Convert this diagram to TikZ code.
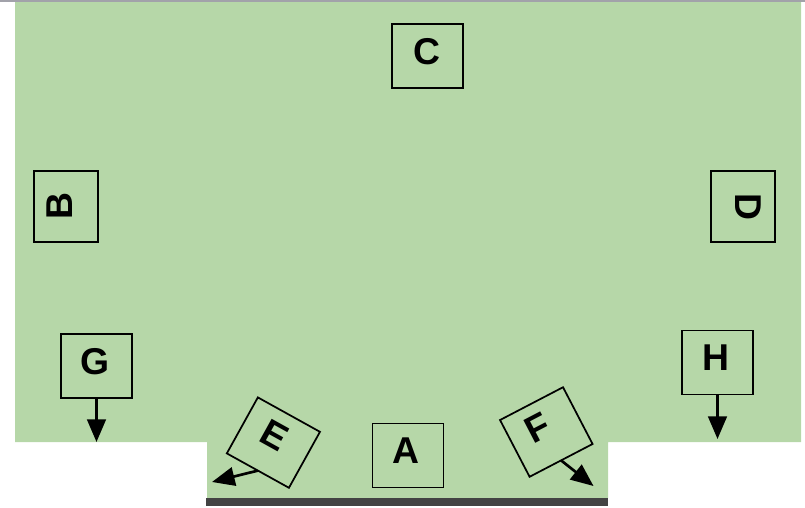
\documentclass[tikz,border=0pt]{standalone}
\usepackage{fontspec}
\setmainfont{Liberation Sans}
\usetikzlibrary{arrows.meta,calc}
\definecolor{bggreen}{HTML}{B6D7A8}
\definecolor{topgray}{HTML}{A2A2AA}
\definecolor{bardark}{HTML}{434343}
\begin{document}
\begin{tikzpicture}[x=0.75pt,y=-0.75pt,
  box/.style={draw=black, line width=1.3pt, minimum width=53.25pt, minimum height=48pt, inner sep=0pt, outer sep=0pt},
  lbl/.style={font=\bfseries\fontsize{28}{28}\selectfont, inner sep=0pt},
  arr/.style={line width=2pt, -{Triangle[length=17pt,width=14pt]}}]
\useasboundingbox (0,0) rectangle (805,507);
% background
\fill[topgray] (0,0) rectangle (805,2.2);
\fill[bggreen] (15,2.2) -- (801,2.2) -- (801,442) -- (608,442) -- (608,498) -- (207,498) -- (207,442) -- (15,442) -- cycle;
\fill[bardark] (205.7,498) rectangle (608,506);
% C
\begin{scope}[shift={(427.5,56)}]
  \node[box] (C) at (0,0) {};
  \node[lbl] (lC) at (-1,-4.5) {C};
\end{scope}
% A
\begin{scope}[shift={(408,455.5)}]
  \node[box] (A) at (0,0) {};
  \node[lbl] (lA) at (-2,-5) {A};
\end{scope}
% G
\begin{scope}[shift={(96.5,366)}]
  \node[box] (G) at (0,0) {};
  \node[lbl] (lG) at (-1,-4.5) {G};
\end{scope}
% H
\begin{scope}[shift={(717.5,362.5)}]
  \node[box] (H) at (0,0) {};
  \node[lbl] (lH) at (-1.5,-5) {H};
\end{scope}
% B
\begin{scope}[shift={(66,206.5)}, rotate=90]
  \node[box, rotate=90] (B) at (0,0) {};
  \node[lbl, rotate=90] (lB) at (0,-6) {B};
\end{scope}
% D
\begin{scope}[shift={(743,206.5)}, rotate=-90]
  \node[box, rotate=-90] (D) at (0,0) {};
  \node[lbl, rotate=-90] (lD) at (0,-5.5) {D};
\end{scope}
% E
\begin{scope}[shift={(273.4,442.6)}, rotate=-29]
  \node[box, rotate=-29] (E) at (0,0) {};
  \node[lbl, rotate=-29] (lE) at (-3,-7) {E};
\end{scope}
% F
\begin{scope}[shift={(546.3,432)}, rotate=27.5]
  \node[box, rotate=27.5] (F) at (0,0) {};
  \node[lbl, rotate=27.5] (lF) at (-6,-8) {F};
\end{scope}
% arrow ends
\coordinate (eG) at (96.5,442);
\coordinate (eH) at (717.5,439);
\coordinate (eE) at (212,482);
\coordinate (eF) at (593.5,486);
\draw[arr] (G.south) -- (eG);
\draw[arr] (H.south) -- (eH);
\draw[arr] (E.south) -- (eE);
\draw[arr] (F.south) -- (eF);
\end{tikzpicture}
\end{document}
